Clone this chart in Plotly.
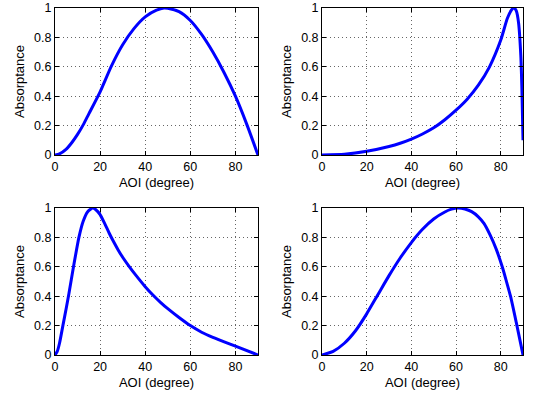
import plotly.graph_objects as go
from plotly.subplots import make_subplots

# panel (a) top-left
aoi_a = [0, 2, 5, 7.5, 10, 12.5, 15, 20, 25, 30, 35, 40, 45, 48.3, 50, 55, 60, 65, 70, 75, 80, 85, 90]
abs_a = [0, 0.008, 0.04, 0.085, 0.14, 0.205, 0.28, 0.43, 0.605, 0.75, 0.86, 0.94, 0.985, 1.0, 0.998, 0.975, 0.915, 0.82, 0.7, 0.56, 0.4, 0.21, 0.0]

# panel (b) top-right
aoi_b = [0, 10, 20, 30, 35, 40, 45, 50, 55, 60, 65, 70, 75, 80, 83, 85, 86, 87, 88, 89, 89.5, 90]
abs_b = [0, 0.005, 0.025, 0.058, 0.08, 0.108, 0.143, 0.185, 0.24, 0.305, 0.38, 0.475, 0.6, 0.78, 0.93, 0.99, 1.0, 0.98, 0.9, 0.68, 0.45, 0.1]

# panel (c) bottom-left
aoi_c = [0, 1, 2, 3.5, 5, 6.2, 8.2, 10.6, 12.5, 14.5, 16.7, 18, 20, 22, 24, 26, 28, 30, 33, 36, 40, 43.3, 47, 50, 55, 60, 65, 70, 80, 90]
abs_c = [0, 0.025, 0.08, 0.2, 0.32, 0.42, 0.6, 0.8, 0.91, 0.975, 1.0, 0.99, 0.955, 0.895, 0.83, 0.77, 0.715, 0.665, 0.6, 0.54, 0.465, 0.41, 0.355, 0.315, 0.255, 0.2, 0.155, 0.12, 0.06, 0.0]

# panel (d) bottom-right
aoi_d = [0, 5, 10, 15, 20, 25, 30, 35, 40, 45, 50, 55, 58, 61, 64, 67, 70, 72.5, 75.3, 78, 80.7, 82.5, 84.4, 87, 90]
abs_d = [0, 0.025, 0.08, 0.165, 0.28, 0.41, 0.54, 0.66, 0.765, 0.855, 0.925, 0.973, 0.992, 1.0, 0.993, 0.975, 0.94, 0.895, 0.815, 0.72, 0.6, 0.505, 0.4, 0.22, 0.0]

x_ticks = [0, 20, 40, 60, 80]
y_ticks = [0, 0.2, 0.4, 0.6, 0.8, 1]

fig = make_subplots(rows=2, cols=2)
panels = [(aoi_a, abs_a, 1, 1), (aoi_b, abs_b, 1, 2), (aoi_c, abs_c, 2, 1), (aoi_d, abs_d, 2, 2)]
for xs, ys, r, c in panels:
    fig.add_trace(go.Scatter(x=xs, y=ys, mode="lines", line=dict(color="#0000ff", width=3, shape="spline", smoothing=0.6),
                             showlegend=False, hoverinfo="skip"), row=r, col=c)

fig.update_xaxes(range=[0, 90], tickvals=x_ticks, ticks="inside", ticklen=4, tickcolor="black",
                 showline=True, linecolor="black", linewidth=1, mirror="allticks",
                 showgrid=True, gridcolor="#666666", griddash="1px,3px", gridwidth=1, zeroline=False,
                 title=dict(text="AOI (degree)", standoff=4, font=dict(size=13)), automargin=False,
                 tickfont=dict(size=12.5))
fig.update_yaxes(range=[0, 1], tickvals=y_ticks, ticks="inside", ticklen=4, tickcolor="black",
                 showline=True, linecolor="black", linewidth=1, mirror="allticks",
                 showgrid=True, gridcolor="#666666", griddash="1px,3px", gridwidth=1, zeroline=False,
                 title=dict(text="Absorptance", standoff=6, font=dict(size=13)), automargin=False,
                 tickfont=dict(size=12.5))

fig.update_layout(xaxis=dict(domain=[0.1028, 0.4822]), xaxis2=dict(domain=[0.6019, 0.9776]),
                  xaxis3=dict(domain=[0.1028, 0.4822]), xaxis4=dict(domain=[0.6019, 0.9776]),
                  yaxis=dict(domain=[0.6135, 0.980]), yaxis2=dict(domain=[0.6135, 0.980]),
                  yaxis3=dict(domain=[0.1147, 0.4813]), yaxis4=dict(domain=[0.1147, 0.4813]))

fig.update_layout(width=535, height=401, margin=dict(l=0, r=0, t=0, b=0),
                  plot_bgcolor="white", paper_bgcolor="white",
                  font=dict(family="Liberation Sans, Arial, Helvetica, sans-serif", color="black"))
# drop the default 8px page margin so the figure fills the window, and hide the modebar
fig.write_html("out.html", config={"displayModeBar": False},
               post_script="document.body.style.margin='0px';")
